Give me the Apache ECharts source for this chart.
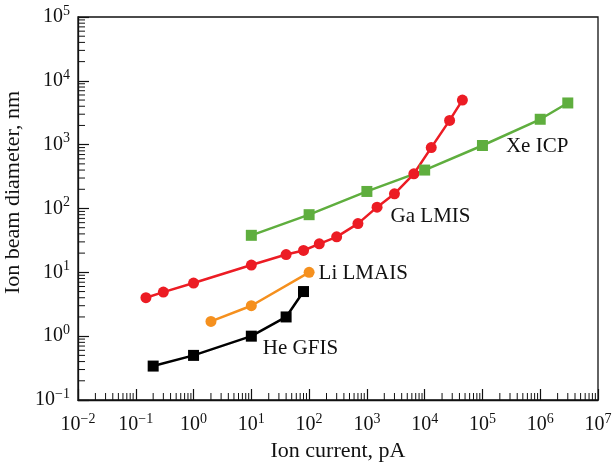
<!DOCTYPE html>
<html>
<head>
<meta charset="utf-8">
<script src="https://cdn.jsdelivr.net/npm/echarts@6/dist/echarts.min.js"></script>
<style>
  html, body { margin: 0; padding: 0; background: #fff; }
  #chart { width: 612px; height: 463px; }
</style>
</head>
<body>
<div id="chart"></div>
<script>
// Ion current (pA) and beam diameter (nm) for each ion source
const heCurrent = [0.2, 1, 10, 40, 80];
const heDiameter = [0.34, 0.5, 1.0, 2.0, 5.0];

const liCurrent = [2, 10, 100];
const liDiameter = [1.7, 3.0, 10];

const gaCurrent = [0.15, 0.3, 1, 10, 40, 80, 150, 300, 700, 1500, 3000, 6500, 13000, 27000, 45000];
const gaDiameter = [4, 4.9, 6.8, 13, 19, 22, 28, 36, 58, 105, 170, 350, 900, 2400, 5000];

const xeCurrent = [10, 100, 1000, 10000, 100000, 1000000, 3000000];
const xeDiameter = [38, 80, 185, 400, 970, 2500, 4500];

// Axis decades (exponents) used for tick labels and minor ticks
const xExponents = [-2, -1, 0, 1, 2, 3, 4, 5, 6, 7];
const yExponents = [-1, 0, 1, 2, 3, 4, 5];
const minorMultipliers = [2, 3, 4, 5, 6, 7, 8, 9];

const seriesLabels = ['He GFIS', 'Li LMAIS', 'Ga LMIS', 'Xe ICP'];

const FONT = '"Liberation Serif", "DejaVu Serif", serif';
const INK = '#111';

const xMin = Math.pow(10, xExponents[0]);
const xMax = Math.pow(10, xExponents[xExponents.length - 1]);
const yMin = Math.pow(10, yExponents[0]);
const yMax = Math.pow(10, yExponents[yExponents.length - 1]);

function pairs(xs, ys) { return xs.map((x, i) => [x, ys[i]]); }

function minorValues(exps) {
  const out = [];
  exps.slice(0, -1).forEach(e => minorMultipliers.forEach(m => out.push(m * Math.pow(10, e))));
  return out;
}

function powLabel(v) {
  const e = Math.round(Math.log10(v));
  const sup = e < 0 ? '\u2212' + Math.abs(e) : String(e);
  return '{b|10}{s|' + sup + '}';
}

const richPow = {
  b: { fontFamily: FONT, fontSize: 20, color: INK },
  s: { fontFamily: FONT, fontSize: 14, color: INK, padding: [0, 0, 12, 0] }
};

const chart = echarts.init(document.getElementById('chart'), null, { renderer: 'canvas' });

// Labels are attached to one point of each curve
function lineSeries(name, xs, ys, color, symbol, size, labelIndex, labelOpts) {
  const data = pairs(xs, ys).map((p, i) => {
    if (i !== labelIndex) return p;
    return {
      value: p,
      label: Object.assign({
        show: true, formatter: name, position: 'right',
        fontFamily: FONT, fontSize: 21, color: INK
      }, labelOpts)
    };
  });
  return {
    name: name,
    type: 'line',
    data: data,
    symbol: symbol,
    symbolSize: size,
    showSymbol: true,
    lineStyle: { color: color, width: 2.5 },
    itemStyle: { color: color },
    emphasis: { disabled: true },
    z: 3,
    animation: false
  };
}

// Inside minor ticks at 2..9 of every decade
function minorTickSeries(values, horizontal) {
  return {
    type: 'custom',
    silent: true,
    clip: false,
    z: 5,
    data: values.map(v => horizontal ? [v, yMin] : [xMin, v]),
    renderItem: function (params, api) {
      const p = api.coord([api.value(0), api.value(1)]);
      const len = 7;
      return {
        type: 'line',
        shape: horizontal
          ? { x1: p[0], y1: p[1], x2: p[0], y2: p[1] - len }
          : { x1: p[0], y1: p[1], x2: p[0] + len, y2: p[1] },
        style: { stroke: INK, lineWidth: 1 }
      };
    }
  };
}

const option = {
  animation: false,
  backgroundColor: '#fff',
  grid: {
    left: 78, right: 14, top: 17, bottom: 63,
    outerBoundsMode: 'none',
    containLabel: false,
    show: true, borderColor: INK, borderWidth: 1.3, backgroundColor: 'transparent'
  },
  xAxis: {
    type: 'log', logBase: 10, min: xMin, max: xMax,
    name: 'Ion current, pA', nameLocation: 'middle', nameGap: 40,
    nameTextStyle: { fontFamily: FONT, fontSize: 22, color: INK },
    axisLine: { show: true, lineStyle: { color: INK, width: 1.3 } },
    axisTick: { show: true, inside: true, length: 11, lineStyle: { color: INK, width: 1.2 } },
    minorTick: { show: false },
    splitLine: { show: false },
    axisLabel: { formatter: powLabel, rich: richPow, margin: 12 }
  },
  yAxis: {
    type: 'log', logBase: 10, min: yMin, max: yMax,
    name: 'Ion beam diameter, nm', nameLocation: 'middle', nameGap: 41,
    nameTextStyle: { fontFamily: FONT, fontSize: 22, color: INK, padding: [0, 0, 0, 32] },
    axisLine: { show: true, lineStyle: { color: INK, width: 1.3 } },
    axisTick: { show: true, inside: true, length: 11, lineStyle: { color: INK, width: 1.2 } },
    minorTick: { show: false },
    splitLine: { show: false },
    axisLabel: { formatter: powLabel, rich: richPow, margin: 8 }
  },
  series: [
    lineSeries(seriesLabels[0], heCurrent, heDiameter, '#000000', 'rect', 11, 2,
      { distance: 6, offset: [0, 12] }),
    lineSeries(seriesLabels[1], liCurrent, liDiameter, '#f5901e', 'circle', 11, 2,
      { distance: 4, offset: [0, 1] }),
    lineSeries(seriesLabels[2], gaCurrent, gaDiameter, '#ec1c24', 'circle', 11, 9,
      { distance: 8, offset: [0, 9] }),
    lineSeries(seriesLabels[3], xeCurrent, xeDiameter, '#5fae3e', 'rect', 11, 4,
      { distance: 18, offset: [0, 1] }),
    minorTickSeries(minorValues(xExponents), true),
    minorTickSeries(minorValues(yExponents), false)
  ]
};

chart.setOption(option);
</script>
</body>
</html>
